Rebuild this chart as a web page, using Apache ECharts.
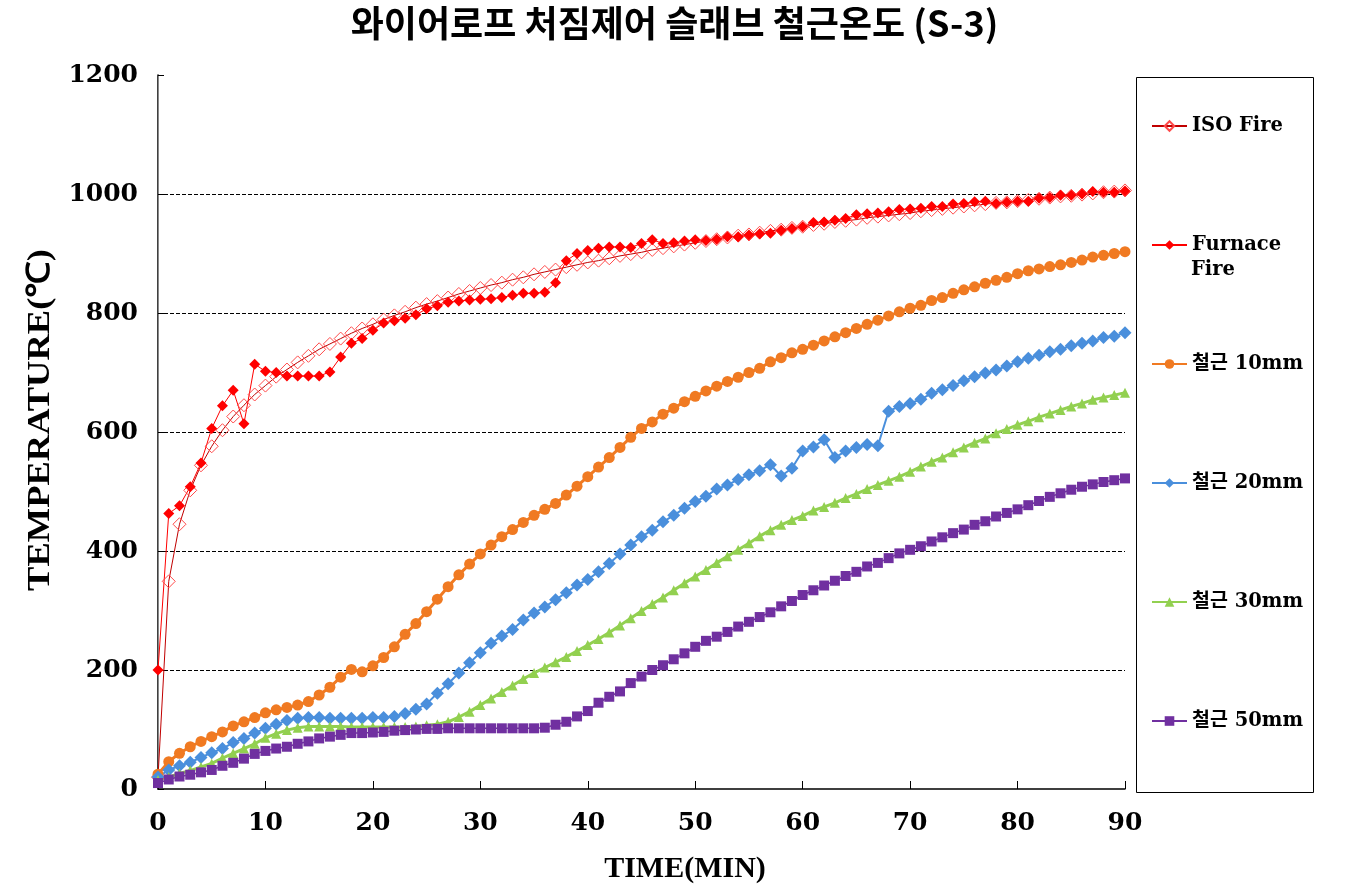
<!DOCTYPE html>
<html>
<head>
<meta charset="utf-8">
<script src="https://cdn.jsdelivr.net/npm/echarts@6/dist/echarts.min.js"></script>
<style>
html,body{margin:0;padding:0;background:#fff;}
#chart{width:1349px;height:895px;}
</style>
</head>
<body>
<div id="chart"></div>
<script>
// ---- data (time in minutes = array index, 0..90) ----
const seriesNames = ['ISO Fire', 'Furnace Fire', '철근 10mm', '철근 20mm', '철근 30mm', '철근 50mm'];
const yTicks = [0, 200, 400, 600, 800, 1000, 1200];
const xTicks = [0, 10, 20, 30, 40, 50, 60, 70, 80, 90];

const isoFire = [
  20,349,445,502,544,576,603,626,645,663,
  678,693,705,717,728,739,748,757,766,774,
  781,789,796,802,809,815,820,826,832,837,
  842,847,851,856,860,865,869,873,877,881,
  885,888,892,896,899,902,906,909,912,915,
  918,921,924,927,930,932,935,938,940,943,
  945,948,950,953,955,957,960,962,964,966,
  968,971,973,975,977,979,981,983,985,986,
  988,990,992,994,996,997,999,1001,1003,1004,
  1006];
const furnaceFire = [
  200,463,476,508,548,606,644,670,614,714,
  702,700,694,694,694,694,701,726,749,757,
  771,783,787,791,797,807,812,818,820,822,
  823,824,826,830,833,833,835,851,888,900,
  905,909,911,911,910,917,923,917,918,921,
  923,922,924,928,928,931,933,934,939,942,
  945,952,953,956,959,965,967,968,970,974,
  975,976,979,979,983,984,987,988,984,986,
  988,988,993,994,998,998,1000,1004,1003,1003,
  1005];
const rebar10 = [
  25,46,60,71,80,88,96,106,113,120,
  128,133,137,141,147,158,171,188,201,197,
  207,221,239,260,278,298,319,340,360,378,
  395,410,424,436,448,460,470,480,494,509,
  525,541,557,574,591,606,617,630,640,651,
  660,669,677,685,692,700,707,718,725,733,
  739,746,753,760,767,774,781,788,795,802,
  808,813,821,826,833,839,844,850,855,860,
  866,871,874,878,881,885,889,894,897,900,
  903];
const rebar20 = [
  20,32,39,45,53,61,68,78,85,94,
  102,109,115,119,120,120,119,119,119,119,
  120,120,122,127,134,143,161,177,195,212,
  229,245,257,268,284,296,306,318,330,343,
  352,365,379,395,410,424,435,449,460,472,
  483,492,504,511,520,528,535,545,526,539,
  568,575,587,557,568,574,579,577,635,643,
  648,655,665,671,678,686,693,699,704,711,
  718,724,729,735,739,745,749,753,759,761,
  767];
const rebar30 = [
  15,20,26,31,37,43,52,60,68,76,
  86,93,99,103,105,105,105,105,104,104,
  104,104,104,104,105,107,109,113,121,130,
  141,152,163,174,185,195,204,213,222,232,
  242,252,263,275,287,299,311,322,334,346,
  357,368,380,391,402,413,425,435,444,452,
  459,468,474,481,489,496,504,511,518,525,
  533,542,550,557,566,574,582,589,598,605,
  612,618,625,631,637,643,648,654,658,662,
  666];
const rebar50 = [
  10,16,21,24,28,32,39,44,51,59,
  64,68,71,76,80,85,88,91,94,94,
  95,96,98,99,100,101,101,102,102,102,
  102,102,102,102,102,102,103,108,113,122,
  131,145,155,164,178,189,200,208,218,228,
  239,249,256,264,273,281,289,297,307,316,
  326,334,342,350,358,365,374,380,388,396,
  402,408,416,423,430,436,444,450,458,464,
  470,477,484,491,497,503,508,512,516,519,
  522];

const allValues = [isoFire, furnaceFire, rebar10, rebar20, rebar30, rebar50];

// ---- styling ----
const styles = [
  {symbol:'diamond', size:13, line:{color:'#c00000', width:1}, item:{color:'rgba(255,255,255,0)', borderColor:'#ff4a4a', borderWidth:1}},
  {symbol:'diamond', size:11, line:{color:'#ff0000', width:1}, item:{color:'#ff0000'}},
  {symbol:'circle', size:11, line:{color:'#f07a22', width:3}, item:{color:'#f07a22'}},
  {symbol:'diamond', size:13, line:{color:'#4a8fdc', width:2}, item:{color:'#4a8fdc'}},
  {symbol:'triangle', size:10, line:{color:'#92d050', width:3}, item:{color:'#92d050'}},
  {symbol:'rect', size:10, line:{color:'#7030a0', width:1.5}, item:{color:'#7030a0'}}
];

const serifFont = "'DejaVu Serif', 'Noto Sans CJK KR', serif";

const series = seriesNames.map((name, k) => ({
  name: name,
  type: 'line',
  xAxisIndex: 0,
  yAxisIndex: 0,
  data: allValues[k].map((v, i) => [i, v]),
  symbol: styles[k].symbol,
  symbolSize: styles[k].size,
  showSymbol: true,
  showAllSymbol: true,
  lineStyle: styles[k].line,
  itemStyle: styles[k].item,
  animation: false,
  emphasis: {disabled: true}
}));

const legendCenters = [126, 245, 364, 483, 602, 721];
const legends = seriesNames.map((name, k) => ({
  data: [name],
  left: 1151,
  top: legendCenters[k] - 11,
  orient: 'vertical',
  padding: 0,
  itemWidth: 35,
  itemHeight: 12,
  selectedMode: false,
  formatter: n => n === 'Furnace Fire' ? 'Furnace' : n,
  textStyle: {fontFamily: serifFont, fontWeight: 'bold', fontSize: 19.5, color: '#000', lineHeight: 22}
}));

const chart = echarts.init(document.getElementById('chart'), null, {renderer: 'canvas'});
chart.setOption({
  backgroundColor: '#fff',
  animation: false,
  title: {
    text: '와이어로프 처짐제어 슬래브 철근온도 (S-3)',
    left: 'center',
    top: 0,
    textStyle: {fontFamily: "'Noto Sans CJK KR', sans-serif", fontWeight: 'bold', fontSize: 36, color: '#000'}
  },
  grid: {left: 158, top: 75, right: 224, bottom: 106, containLabel: false},
  legend: legends,
  xAxis: [{
    type: 'value',
    min: xTicks[0],
    max: xTicks[xTicks.length - 1],
    interval: 10,
    axisLine: {show: true, onZero: false, lineStyle: {color: '#000', width: 1.5}},
    axisTick: {show: true, inside: true, length: 8, lineStyle: {color: '#000'}},
    axisLabel: {fontFamily: serifFont, fontWeight: 'bold', fontSize: 25, color: '#000', margin: 22},
    splitLine: {show: false}
  }],
  yAxis: [{
    type: 'value',
    min: yTicks[0],
    max: yTicks[yTicks.length - 1],
    interval: 200,
    axisLine: {show: true, onZero: false, lineStyle: {color: '#000', width: 1.5}},
    axisTick: {show: true, inside: true, length: 6, lineStyle: {color: '#000'}},
    axisLabel: {fontFamily: serifFont, fontWeight: 'bold', fontSize: 25, color: '#000', margin: 20, formatter: v => String(v)},
    splitLine: {show: true, showMinLine: false, showMaxLine: false, lineStyle: {color: '#000', width: 1, type: [4, 2]}}
  }, {
    type: 'value',
    position: 'right',
    min: yTicks[0],
    max: yTicks[yTicks.length - 1],
    interval: 200,
    axisLine: {show: true, lineStyle: {color: '#888', width: 1}},
    axisTick: {show: false},
    axisLabel: {show: false},
    splitLine: {show: false}
  }],
  graphic: [{
    type: 'rect',
    left: 1134,
    top: 75,
    shape: {width: 177, height: 715},
    style: {fill: 'none', stroke: '#000', lineWidth: 1},
    silent: true
  }, {
    type: 'text',
    x: 1191,
    y: 270,
    style: {text: 'Fire', font: "bold 19.5px 'DejaVu Serif', serif", fill: '#000', textAlign: 'left', textVerticalAlign: 'middle'},
    silent: true
  }, {
    type: 'text',
    x: 41,
    y: 420,
    rotation: Math.PI / 2,
    scaleX: 1.14,
    style: {text: 'TEMPERATURE(℃)', font: "bold 32px 'Liberation Serif', serif", fill: '#000', textAlign: 'center', textVerticalAlign: 'middle'},
    silent: true
  }, {
    type: 'text',
    x: 685,
    y: 869,
    style: {text: 'TIME(MIN)', font: "bold 30px 'Liberation Serif', serif", fill: '#000', textAlign: 'center', textVerticalAlign: 'middle'},
    silent: true
  }],
  series: series
});
</script>
</body>
</html>
